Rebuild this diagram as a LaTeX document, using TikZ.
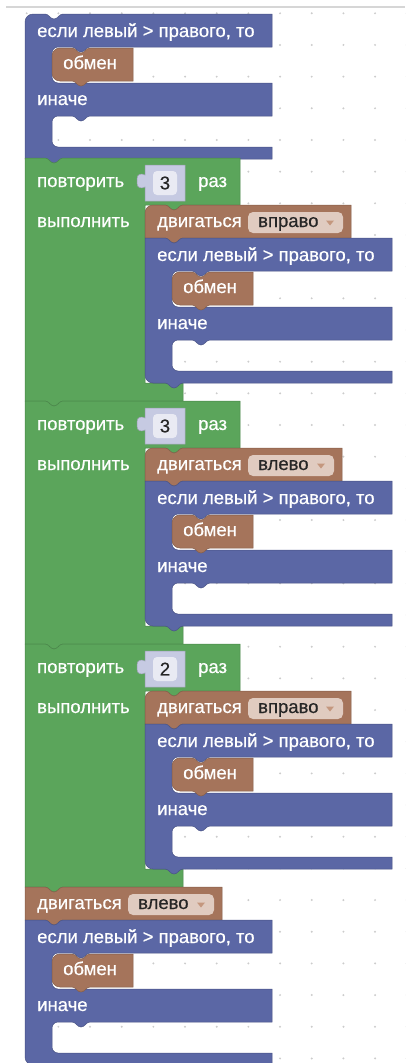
\documentclass[tikz,border=0pt]{standalone}
\usepackage{fontspec}
\setmainfont{Liberation Sans}
\newfontfamily\blockfont[FakeBold=0.5]{Liberation Sans}

\definecolor{logicblue}{HTML}{5B67A5}
\definecolor{loopgreen}{HTML}{5BA55B}
\definecolor{movebrown}{HTML}{A5745B}
\definecolor{numshadow}{HTML}{C6CAE2}
\definecolor{numfield}{HTML}{E9EAF3}
\definecolor{dropfield}{HTML}{E0CBC0}
\definecolor{droparrow}{HTML}{C4977E}
\definecolor{griddot}{HTML}{CCCCCC}

\tikzset{
    blockfill/.style={fill=#1, draw=#1!80!black, line width=0.5pt},
    lbl/.style={text=white, inner sep=0pt, anchor=base west,
        font=\blockfont\fontsize{18.5}{20}\selectfont},
    darklbl/.style={lbl, text=black!85},
}

% notch in a top edge (walking right), tab under a bottom edge (walking left)
\newcommand{\notchR}[2]{-- (#1,#2) .. controls +(4,0) and +(-4,0) .. (#1+9,#2+5) .. controls +(4,0) and +(-4,0) .. (#1+18,#2)}
\newcommand{\tabL}[2]{-- (#1+18,#2) .. controls +(-4,0) and +(4,0) .. (#1+9,#2+5) .. controls +(-4,0) and +(4,0) .. (#1,#2)}
% outer corners, radius #1
\newcommand{\cornerTL}[1]{(0,#1) .. controls (0,0.45*#1) and (0.45*#1,0) .. (#1,0)}
\newcommand{\cornerBL}[2]{-- (#1,#2) .. controls (0.45*#1,#2) and (0,#2-0.45*#1) .. (0,#2-#1)}

% if / else block with a swap in the first slot
\newcommand{\condblock}[5]{%
    \begin{scope}[shift={(#2,#3)}]
        \draw[blockfill=logicblue] \cornerTL{#4} \notchR{20}{0} -- (247,0) -- (247,33)
            \tabL{47}{33} -- (33,33) .. controls (29.7,33) and (27,35.7) .. (27,39)
            -- (27,63) .. controls (27,66.3) and (29.7,69) .. (33,69)
            -- (247,69) -- (247,102)
            \tabL{47}{102} -- (33,102) .. controls (29.7,102) and (27,104.7) .. (27,108)
            -- (27,127) .. controls (27,130.3) and (29.7,133) .. (33,133)
            -- (247,133) -- (247,145)
            \tabL{20}{145} \cornerBL{#5}{145} -- cycle;
        % swap
        \draw[blockfill=movebrown] (27,42) .. controls (27,37.5) and (30.5,34) .. (35,34)
            \notchR{47}{34} -- (108,34) -- (108,67)
            \tabL{47}{67} -- (35,67) .. controls (30.5,67) and (27,63.5) .. (27,59) -- cycle;
        \node[lbl] (#1-cond) at (12,23) {если левый > правого, то};
        \node[lbl] (#1-swap) at (38,55) {обмен};
        \node[lbl] (#1-else) at (12,91) {иначе};
    \end{scope}}

% repeat block with its number slot
\newcommand{\repeatblock}[3]{%
    \begin{scope}[shift={(25,#2)}]
        \draw[blockfill=loopgreen] (0,0) \notchR{20}{0} -- (215,0) -- (215,47)
            \tabL{140}{47} -- (120,47) -- (120,225) -- (158,225) -- (158,243)
            \tabL{20}{243} -- (0,243) -- cycle;
        \draw[white, line width=0.8pt] (120.6,214) .. controls (120.6,221) and (123,224.4) .. (131,224.4);
        % number
        \draw[blockfill=numshadow] (120,7) -- (160,7) -- (160,43) -- (120,43) -- (120,29)
            .. controls (116,31) and (112,30) .. (112,25) -- (112,21)
            .. controls (112,16) and (116,15) .. (120,17) -- cycle;
        \draw[fill=numfield, draw=none, rounded corners=4pt] (128,13) rectangle (152,37);
        \node[darklbl, anchor=center] (#1-count) at (140,25) {#3};
        \node[lbl] (#1-head) at (12,29) {повторить};
        \node[lbl] (#1-times) at (173,29) {раз};
        \node[lbl] (#1-do) at (12,69) {выполнить};
    \end{scope}}

% move block with its direction menu
\newcommand{\moveblock}[6]{%
    \begin{scope}[shift={(#2,#3)}]
        \draw[blockfill=movebrown] \cornerTL{#5} \notchR{20}{0} -- (#4,0) -- (#4,33)
            \tabL{20}{33} -- (0,33) -- cycle;
        \draw[fill=dropfield, draw=none, rounded corners=5pt] (103,7) rectangle (#4-8,28);
        \fill[droparrow] (#4-25,15.5) -- (#4-17,15.5) -- (#4-21,20.5) -- cycle;
        \node[lbl] (#1-verb) at (12,22) {двигаться};
        \node[darklbl] (#1-dir) at (113,22) {#6};
    \end{scope}}

\begin{document}
\begin{tikzpicture}[x=1pt, y=-1pt]
    \useasboundingbox (0,0) rectangle (405,1063);

    % workspace grid
    \draw[griddot!80, line width=1.5pt] (6,7) -- (405,7);
    \foreach \gx in {0,...,12} {
        \foreach \gy in {0,...,33} {
            \fill[griddot] (26.7+31.67*\gx, 13.3+31.67*\gy) circle [radius=1.1];
        }
    }

    % first check
    \condblock{first}{25}{14}{8}{0}

    % three passes to the right
    \repeatblock{passA}{158}{3}
    \moveblock{passA-move}{145}{205}{206}{8}{вправо}
    \condblock{passA-check}{145}{238}{0}{8}

    % three passes to the left
    \repeatblock{passB}{401}{3}
    \moveblock{passB-move}{145}{448}{197}{8}{влево}
    \condblock{passB-check}{145}{481}{0}{8}

    % two passes to the right
    \repeatblock{passC}{644}{2}
    \moveblock{passC-move}{145}{691}{206}{8}{вправо}
    \condblock{passC-check}{145}{724}{0}{8}

    % last step
    \moveblock{last-move}{25}{887}{197}{0}{влево}
    \condblock{last-check}{25}{920}{0}{8}
\end{tikzpicture}
\end{document}
